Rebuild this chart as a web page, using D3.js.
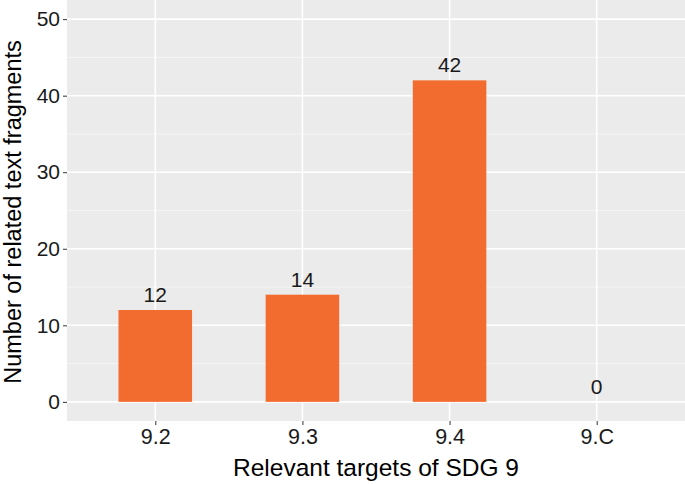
<!DOCTYPE html>
<head>
    <meta charset="utf-8">
    <style>
        body { margin: 0; background: #fff; }
        text { font-family: "Liberation Sans", Arial, sans-serif; }
    </style>
</head>
<body>
    <div id="chart"></div>
    <script src="https://cdnjs.cloudflare.com/ajax/libs/d3/7.8.5/d3.min.js"></script>
    <script>
        var targets = ["9.2", "9.3", "9.4", "9.C"];
        var counts = [12, 14, 42, 0];
        var yTicks = [0, 10, 20, 30, 40, 50];
        var yMinor = [5, 15, 25, 35, 45];

        var W = 685, H = 484;
        var margin = {top: 0, right: 0, bottom: 63, left: 67};
        var width = W - margin.left - margin.right,
            height = H - margin.top - margin.bottom;

        var svg = d3.select("#chart").append("svg")
            .attr("width", W)
            .attr("height", H);

        var g = svg.append("g")
            .attr("transform", "translate(" + margin.left + "," + margin.top + ")");

        // discrete x with ggplot style 0.6 expansion
        var x = d3.scalePoint()
            .domain(targets)
            .range([0, width])
            .padding(0.6);
        var step = x.step();
        var barW = step * 0.5;

        var y = d3.scaleLinear()
            .domain([-2.5, 52.5])
            .range([height, 0]);

        // panel
        g.append("rect")
            .attr("width", width)
            .attr("height", height)
            .attr("fill", "#ebebeb");

        // minor gridlines
        g.selectAll(".minor")
            .data(yMinor)
            .enter().append("line")
            .attr("x1", 0).attr("x2", width)
            .attr("y1", function(d) { return y(d); })
            .attr("y2", function(d) { return y(d); })
            .attr("stroke", "#f7f7f7")
            .attr("stroke-width", 0.8);

        // major gridlines
        g.selectAll(".major")
            .data(yTicks)
            .enter().append("line")
            .attr("x1", 0).attr("x2", width)
            .attr("y1", function(d) { return y(d); })
            .attr("y2", function(d) { return y(d); })
            .attr("stroke", "#fff")
            .attr("stroke-width", 1.6);

        g.selectAll(".vgrid")
            .data(targets)
            .enter().append("line")
            .attr("x1", function(d) { return x(d); })
            .attr("x2", function(d) { return x(d); })
            .attr("y1", 0).attr("y2", height)
            .attr("stroke", "#fff")
            .attr("stroke-width", 1.6);

        // bars
        g.selectAll(".bar")
            .data(counts)
            .enter().append("rect")
            .attr("x", function(d, i) { return x(targets[i]) - barW / 2; })
            .attr("y", function(d) { return y(d); })
            .attr("width", barW)
            .attr("height", function(d) { return y(0) - y(d); })
            .attr("fill", "#f26b2f");

        // bar labels
        g.selectAll(".lbl")
            .data(counts)
            .enter().append("text")
            .attr("x", function(d, i) { return x(targets[i]); })
            .attr("y", function(d) { return y(d) - 8; })
            .attr("text-anchor", "middle")
            .attr("font-size", 21)
            .attr("fill", "#1a1a1a")
            .text(function(d) { return d; });

        // axes
        var yAxis = g.append("g")
            .call(d3.axisLeft(y).tickValues(yTicks).tickSize(4).tickPadding(3));
        yAxis.select(".domain").remove();
        yAxis.selectAll(".tick line").attr("stroke", "#333").attr("stroke-width", 1);
        yAxis.selectAll(".tick text")
            .attr("font-size", 21)
            .attr("font-family", "Liberation Sans, Arial, sans-serif")
            .attr("fill", "#1a1a1a");

        var xAxis = g.append("g")
            .attr("transform", "translate(0," + height + ")")
            .call(d3.axisBottom(x).tickSize(4).tickPadding(4));
        xAxis.select(".domain").remove();
        xAxis.selectAll(".tick line").attr("stroke", "#333").attr("stroke-width", 1);
        xAxis.selectAll(".tick text")
            .attr("font-size", 21.5)
            .attr("font-family", "Liberation Sans, Arial, sans-serif")
            .attr("fill", "#1a1a1a");

        // axis titles
        svg.append("text")
            .attr("x", margin.left + width / 2)
            .attr("y", 476)
            .attr("text-anchor", "middle")
            .attr("font-size", 24.5)
            .attr("fill", "#000")
            .text("Relevant targets of SDG 9");

        svg.append("text")
            .attr("transform", "translate(21," + 212 + ") rotate(-90)")
            .attr("text-anchor", "middle")
            .attr("font-size", 23.5)
            .attr("fill", "#000")
            .text("Number of related text fragments");
    </script>
</body>
